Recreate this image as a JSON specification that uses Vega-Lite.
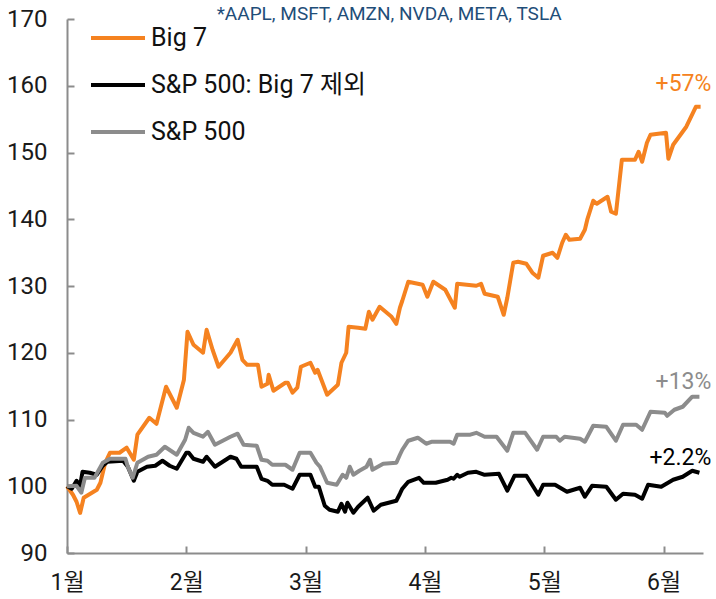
{
  "$schema": "https://vega.github.io/schema/vega-lite/v6.json",
  "width": 636,
  "height": 534,
  "autosize": {"type": "none"},
  "padding": {"left": 67, "top": 19, "right": 13, "bottom": 46},
  "background": "white",
  "config": {
    "view": {"stroke": null},
    "font": "Roboto, Noto Sans CJK KR",
    "axis": {"labelFont": "Roboto, Noto Sans CJK KR", "labelColor": "#1a1a1a", "domainColor": "#8c8c8c", "tickColor": "#8c8c8c", "domainWidth": 2, "tickWidth": 2, "grid": false, "title": null},
    "legend": {"labelFont": "Roboto, Noto Sans CJK KR"}
  },
  "datasets": {
    "lines": [
      {"series": "Big 7", "m": 0, "v": 100},
      {"series": "Big 7", "m": 0.05, "v": 98.73},
      {"series": "Big 7", "m": 0.08, "v": 97.68},
      {"series": "Big 7", "m": 0.11, "v": 96.0},
      {"series": "Big 7", "m": 0.14, "v": 98.28},
      {"series": "Big 7", "m": 0.25, "v": 99.48},
      {"series": "Big 7", "m": 0.28, "v": 100.52},
      {"series": "Big 7", "m": 0.32, "v": 103.52},
      {"series": "Big 7", "m": 0.36, "v": 105.02},
      {"series": "Big 7", "m": 0.44, "v": 105.02},
      {"series": "Big 7", "m": 0.50, "v": 105.77},
      {"series": "Big 7", "m": 0.56, "v": 103.97},
      {"series": "Big 7", "m": 0.59, "v": 107.72},
      {"series": "Big 7", "m": 0.69, "v": 110.26},
      {"series": "Big 7", "m": 0.75, "v": 109.36},
      {"series": "Big 7", "m": 0.83, "v": 114.91},
      {"series": "Big 7", "m": 0.92, "v": 111.76},
      {"series": "Big 7", "m": 0.98, "v": 115.96},
      {"series": "Big 7", "m": 1.01, "v": 123.15},
      {"series": "Big 7", "m": 1.06, "v": 121.2},
      {"series": "Big 7", "m": 1.14, "v": 120.0},
      {"series": "Big 7", "m": 1.17, "v": 123.45},
      {"series": "Big 7", "m": 1.22, "v": 120.45},
      {"series": "Big 7", "m": 1.27, "v": 117.9},
      {"series": "Big 7", "m": 1.37, "v": 120.0},
      {"series": "Big 7", "m": 1.43, "v": 121.95},
      {"series": "Big 7", "m": 1.47, "v": 118.95},
      {"series": "Big 7", "m": 1.51, "v": 118.2},
      {"series": "Big 7", "m": 1.60, "v": 118.2},
      {"series": "Big 7", "m": 1.63, "v": 114.91},
      {"series": "Big 7", "m": 1.68, "v": 115.36},
      {"series": "Big 7", "m": 1.69, "v": 116.7},
      {"series": "Big 7", "m": 1.73, "v": 114.31},
      {"series": "Big 7", "m": 1.83, "v": 115.51},
      {"series": "Big 7", "m": 1.85, "v": 115.51},
      {"series": "Big 7", "m": 1.89, "v": 114.01},
      {"series": "Big 7", "m": 1.93, "v": 114.76},
      {"series": "Big 7", "m": 1.96, "v": 117.9},
      {"series": "Big 7", "m": 2.04, "v": 118.5},
      {"series": "Big 7", "m": 2.08, "v": 117.0},
      {"series": "Big 7", "m": 2.10, "v": 117.45},
      {"series": "Big 7", "m": 2.18, "v": 113.71},
      {"series": "Big 7", "m": 2.27, "v": 115.21},
      {"series": "Big 7", "m": 2.30, "v": 118.5},
      {"series": "Big 7", "m": 2.34, "v": 120.0},
      {"series": "Big 7", "m": 2.36, "v": 123.9},
      {"series": "Big 7", "m": 2.44, "v": 123.75},
      {"series": "Big 7", "m": 2.50, "v": 123.6},
      {"series": "Big 7", "m": 2.53, "v": 126.14},
      {"series": "Big 7", "m": 2.56, "v": 124.94},
      {"series": "Big 7", "m": 2.62, "v": 126.89},
      {"series": "Big 7", "m": 2.72, "v": 125.39},
      {"series": "Big 7", "m": 2.76, "v": 124.34},
      {"series": "Big 7", "m": 2.79, "v": 126.74},
      {"series": "Big 7", "m": 2.81, "v": 127.79},
      {"series": "Big 7", "m": 2.86, "v": 130.64},
      {"series": "Big 7", "m": 2.98, "v": 130.19},
      {"series": "Big 7", "m": 3.02, "v": 128.39},
      {"series": "Big 7", "m": 3.07, "v": 130.64},
      {"series": "Big 7", "m": 3.17, "v": 129.44},
      {"series": "Big 7", "m": 3.25, "v": 126.74},
      {"series": "Big 7", "m": 3.27, "v": 130.34},
      {"series": "Big 7", "m": 3.43, "v": 130.04},
      {"series": "Big 7", "m": 3.47, "v": 130.34},
      {"series": "Big 7", "m": 3.50, "v": 128.84},
      {"series": "Big 7", "m": 3.61, "v": 128.39},
      {"series": "Big 7", "m": 3.66, "v": 125.69},
      {"series": "Big 7", "m": 3.69, "v": 128.24},
      {"series": "Big 7", "m": 3.74, "v": 133.48},
      {"series": "Big 7", "m": 3.78, "v": 133.63},
      {"series": "Big 7", "m": 3.85, "v": 133.33},
      {"series": "Big 7", "m": 3.90, "v": 131.99},
      {"series": "Big 7", "m": 3.95, "v": 131.24},
      {"series": "Big 7", "m": 3.99, "v": 134.53},
      {"series": "Big 7", "m": 4.07, "v": 134.98},
      {"series": "Big 7", "m": 4.11, "v": 134.23},
      {"series": "Big 7", "m": 4.15, "v": 136.48},
      {"series": "Big 7", "m": 4.18, "v": 137.68},
      {"series": "Big 7", "m": 4.21, "v": 136.93},
      {"series": "Big 7", "m": 4.30, "v": 137.08},
      {"series": "Big 7", "m": 4.34, "v": 138.43},
      {"series": "Big 7", "m": 4.36, "v": 139.93},
      {"series": "Big 7", "m": 4.41, "v": 142.77},
      {"series": "Big 7", "m": 4.44, "v": 142.32},
      {"series": "Big 7", "m": 4.53, "v": 143.37},
      {"series": "Big 7", "m": 4.56, "v": 141.12},
      {"series": "Big 7", "m": 4.60, "v": 140.82},
      {"series": "Big 7", "m": 4.65, "v": 148.91},
      {"series": "Big 7", "m": 4.76, "v": 148.91},
      {"series": "Big 7", "m": 4.79, "v": 150.11},
      {"series": "Big 7", "m": 4.82, "v": 148.61},
      {"series": "Big 7", "m": 4.86, "v": 151.46},
      {"series": "Big 7", "m": 4.89, "v": 152.66},
      {"series": "Big 7", "m": 5.02, "v": 152.96},
      {"series": "Big 7", "m": 5.04, "v": 149.06},
      {"series": "Big 7", "m": 5.08, "v": 151.16},
      {"series": "Big 7", "m": 5.19, "v": 153.86},
      {"series": "Big 7", "m": 5.27, "v": 156.85},
      {"series": "Big 7", "m": 5.31, "v": 156.85},

      {"series": "S&P 500: Big 7 제외", "m": 0, "v": 100},
      {"series": "S&P 500: Big 7 제외", "m": 0.04, "v": 99.63},
      {"series": "S&P 500: Big 7 제외", "m": 0.08, "v": 100.82},
      {"series": "S&P 500: Big 7 제외", "m": 0.11, "v": 100.1},
      {"series": "S&P 500: Big 7 제외", "m": 0.13, "v": 102.17},
      {"series": "S&P 500: Big 7 제외", "m": 0.19, "v": 102.02},
      {"series": "S&P 500: Big 7 제외", "m": 0.25, "v": 101.72},
      {"series": "S&P 500: Big 7 제외", "m": 0.30, "v": 103.07},
      {"series": "S&P 500: Big 7 제외", "m": 0.34, "v": 103.67},
      {"series": "S&P 500: Big 7 제외", "m": 0.47, "v": 103.82},
      {"series": "S&P 500: Big 7 제외", "m": 0.51, "v": 102.92},
      {"series": "S&P 500: Big 7 제외", "m": 0.56, "v": 100.82},
      {"series": "S&P 500: Big 7 제외", "m": 0.59, "v": 102.17},
      {"series": "S&P 500: Big 7 제외", "m": 0.67, "v": 102.92},
      {"series": "S&P 500: Big 7 제외", "m": 0.74, "v": 103.07},
      {"series": "S&P 500: Big 7 제외", "m": 0.80, "v": 103.82},
      {"series": "S&P 500: Big 7 제외", "m": 0.86, "v": 103.07},
      {"series": "S&P 500: Big 7 제외", "m": 0.92, "v": 102.62},
      {"series": "S&P 500: Big 7 제외", "m": 1.00, "v": 105.02},
      {"series": "S&P 500: Big 7 제외", "m": 1.02, "v": 105.02},
      {"series": "S&P 500: Big 7 제외", "m": 1.06, "v": 104.12},
      {"series": "S&P 500: Big 7 제외", "m": 1.14, "v": 103.67},
      {"series": "S&P 500: Big 7 제외", "m": 1.17, "v": 104.42},
      {"series": "S&P 500: Big 7 제외", "m": 1.24, "v": 102.92},
      {"series": "S&P 500: Big 7 제외", "m": 1.37, "v": 104.42},
      {"series": "S&P 500: Big 7 제외", "m": 1.42, "v": 104.12},
      {"series": "S&P 500: Big 7 제외", "m": 1.46, "v": 102.92},
      {"series": "S&P 500: Big 7 제외", "m": 1.59, "v": 102.92},
      {"series": "S&P 500: Big 7 제외", "m": 1.63, "v": 101.12},
      {"series": "S&P 500: Big 7 제외", "m": 1.68, "v": 100.82},
      {"series": "S&P 500: Big 7 제외", "m": 1.72, "v": 100.22},
      {"series": "S&P 500: Big 7 제외", "m": 1.82, "v": 100.22},
      {"series": "S&P 500: Big 7 제외", "m": 1.89, "v": 99.63},
      {"series": "S&P 500: Big 7 제외", "m": 1.95, "v": 101.72},
      {"series": "S&P 500: Big 7 제외", "m": 2.04, "v": 101.72},
      {"series": "S&P 500: Big 7 제외", "m": 2.08, "v": 99.93},
      {"series": "S&P 500: Big 7 제외", "m": 2.11, "v": 99.93},
      {"series": "S&P 500: Big 7 제외", "m": 2.16, "v": 97.08},
      {"series": "S&P 500: Big 7 제외", "m": 2.20, "v": 96.48},
      {"series": "S&P 500: Big 7 제외", "m": 2.27, "v": 96.18},
      {"series": "S&P 500: Big 7 제외", "m": 2.30, "v": 97.38},
      {"series": "S&P 500: Big 7 제외", "m": 2.33, "v": 96.18},
      {"series": "S&P 500: Big 7 제외", "m": 2.35, "v": 97.53},
      {"series": "S&P 500: Big 7 제외", "m": 2.40, "v": 96.03},
      {"series": "S&P 500: Big 7 제외", "m": 2.44, "v": 96.93},
      {"series": "S&P 500: Big 7 제외", "m": 2.52, "v": 98.28},
      {"series": "S&P 500: Big 7 제외", "m": 2.57, "v": 96.33},
      {"series": "S&P 500: Big 7 제외", "m": 2.63, "v": 97.23},
      {"series": "S&P 500: Big 7 제외", "m": 2.76, "v": 97.83},
      {"series": "S&P 500: Big 7 제외", "m": 2.79, "v": 98.88},
      {"series": "S&P 500: Big 7 제외", "m": 2.81, "v": 99.63},
      {"series": "S&P 500: Big 7 제외", "m": 2.86, "v": 100.67},
      {"series": "S&P 500: Big 7 제외", "m": 2.95, "v": 101.27},
      {"series": "S&P 500: Big 7 제외", "m": 2.99, "v": 100.52},
      {"series": "S&P 500: Big 7 제외", "m": 3.09, "v": 100.52},
      {"series": "S&P 500: Big 7 제외", "m": 3.19, "v": 100.97},
      {"series": "S&P 500: Big 7 제외", "m": 3.22, "v": 101.27},
      {"series": "S&P 500: Big 7 제외", "m": 3.24, "v": 101.12},
      {"series": "S&P 500: Big 7 제외", "m": 3.27, "v": 101.72},
      {"series": "S&P 500: Big 7 제외", "m": 3.29, "v": 101.42},
      {"series": "S&P 500: Big 7 제외", "m": 3.36, "v": 102.02},
      {"series": "S&P 500: Big 7 제외", "m": 3.43, "v": 102.17},
      {"series": "S&P 500: Big 7 제외", "m": 3.50, "v": 101.72},
      {"series": "S&P 500: Big 7 제외", "m": 3.62, "v": 101.87},
      {"series": "S&P 500: Big 7 제외", "m": 3.69, "v": 99.33},
      {"series": "S&P 500: Big 7 제외", "m": 3.75, "v": 101.57},
      {"series": "S&P 500: Big 7 제외", "m": 3.85, "v": 101.57},
      {"series": "S&P 500: Big 7 제외", "m": 3.95, "v": 98.73},
      {"series": "S&P 500: Big 7 제외", "m": 3.99, "v": 100.22},
      {"series": "S&P 500: Big 7 제외", "m": 4.09, "v": 100.22},
      {"series": "S&P 500: Big 7 제외", "m": 4.19, "v": 99.18},
      {"series": "S&P 500: Big 7 제외", "m": 4.30, "v": 99.78},
      {"series": "S&P 500: Big 7 제외", "m": 4.34, "v": 98.43},
      {"series": "S&P 500: Big 7 제외", "m": 4.40, "v": 100.07},
      {"series": "S&P 500: Big 7 제외", "m": 4.52, "v": 99.93},
      {"series": "S&P 500: Big 7 제외", "m": 4.60, "v": 97.98},
      {"series": "S&P 500: Big 7 제외", "m": 4.66, "v": 98.88},
      {"series": "S&P 500: Big 7 제외", "m": 4.76, "v": 98.73},
      {"series": "S&P 500: Big 7 제외", "m": 4.82, "v": 98.13},
      {"series": "S&P 500: Big 7 제외", "m": 4.87, "v": 100.22},
      {"series": "S&P 500: Big 7 제외", "m": 4.98, "v": 99.93},
      {"series": "S&P 500: Big 7 제외", "m": 5.08, "v": 100.97},
      {"series": "S&P 500: Big 7 제외", "m": 5.16, "v": 101.42},
      {"series": "S&P 500: Big 7 제외", "m": 5.24, "v": 102.32},
      {"series": "S&P 500: Big 7 제외", "m": 5.30, "v": 102.02},

      {"series": "S&P 500", "m": 0, "v": 100},
      {"series": "S&P 500", "m": 0.08, "v": 100.07},
      {"series": "S&P 500", "m": 0.12, "v": 99.03},
      {"series": "S&P 500", "m": 0.15, "v": 101.27},
      {"series": "S&P 500", "m": 0.23, "v": 101.27},
      {"series": "S&P 500", "m": 0.30, "v": 103.52},
      {"series": "S&P 500", "m": 0.36, "v": 104.12},
      {"series": "S&P 500", "m": 0.49, "v": 104.12},
      {"series": "S&P 500", "m": 0.51, "v": 102.92},
      {"series": "S&P 500", "m": 0.55, "v": 101.27},
      {"series": "S&P 500", "m": 0.59, "v": 103.52},
      {"series": "S&P 500", "m": 0.68, "v": 104.42},
      {"series": "S&P 500", "m": 0.75, "v": 104.72},
      {"series": "S&P 500", "m": 0.82, "v": 105.92},
      {"series": "S&P 500", "m": 0.92, "v": 104.72},
      {"series": "S&P 500", "m": 0.99, "v": 106.97},
      {"series": "S&P 500", "m": 1.02, "v": 108.76},
      {"series": "S&P 500", "m": 1.06, "v": 108.01},
      {"series": "S&P 500", "m": 1.14, "v": 107.42},
      {"series": "S&P 500", "m": 1.18, "v": 108.16},
      {"series": "S&P 500", "m": 1.24, "v": 106.22},
      {"series": "S&P 500", "m": 1.37, "v": 107.42},
      {"series": "S&P 500", "m": 1.43, "v": 107.87},
      {"series": "S&P 500", "m": 1.48, "v": 106.22},
      {"series": "S&P 500", "m": 1.59, "v": 106.07},
      {"series": "S&P 500", "m": 1.63, "v": 103.97},
      {"series": "S&P 500", "m": 1.68, "v": 103.82},
      {"series": "S&P 500", "m": 1.72, "v": 103.22},
      {"series": "S&P 500", "m": 1.83, "v": 103.22},
      {"series": "S&P 500", "m": 1.89, "v": 102.47},
      {"series": "S&P 500", "m": 1.95, "v": 105.02},
      {"series": "S&P 500", "m": 2.04, "v": 105.02},
      {"series": "S&P 500", "m": 2.09, "v": 103.52},
      {"series": "S&P 500", "m": 2.12, "v": 102.92},
      {"series": "S&P 500", "m": 2.18, "v": 100.52},
      {"series": "S&P 500", "m": 2.26, "v": 100.22},
      {"series": "S&P 500", "m": 2.31, "v": 101.72},
      {"series": "S&P 500", "m": 2.34, "v": 101.27},
      {"series": "S&P 500", "m": 2.37, "v": 102.92},
      {"series": "S&P 500", "m": 2.40, "v": 101.72},
      {"series": "S&P 500", "m": 2.45, "v": 102.32},
      {"series": "S&P 500", "m": 2.51, "v": 102.92},
      {"series": "S&P 500", "m": 2.54, "v": 103.97},
      {"series": "S&P 500", "m": 2.56, "v": 102.47},
      {"series": "S&P 500", "m": 2.65, "v": 103.37},
      {"series": "S&P 500", "m": 2.76, "v": 103.52},
      {"series": "S&P 500", "m": 2.79, "v": 104.72},
      {"series": "S&P 500", "m": 2.81, "v": 105.47},
      {"series": "S&P 500", "m": 2.86, "v": 106.82},
      {"series": "S&P 500", "m": 2.94, "v": 107.27},
      {"series": "S&P 500", "m": 3.01, "v": 106.37},
      {"series": "S&P 500", "m": 3.06, "v": 106.67},
      {"series": "S&P 500", "m": 3.21, "v": 106.67},
      {"series": "S&P 500", "m": 3.24, "v": 106.37},
      {"series": "S&P 500", "m": 3.27, "v": 107.72},
      {"series": "S&P 500", "m": 3.38, "v": 107.72},
      {"series": "S&P 500", "m": 3.43, "v": 108.01},
      {"series": "S&P 500", "m": 3.50, "v": 107.42},
      {"series": "S&P 500", "m": 3.60, "v": 107.42},
      {"series": "S&P 500", "m": 3.69, "v": 105.32},
      {"series": "S&P 500", "m": 3.74, "v": 108.01},
      {"series": "S&P 500", "m": 3.84, "v": 108.01},
      {"series": "S&P 500", "m": 3.94, "v": 105.47},
      {"series": "S&P 500", "m": 3.99, "v": 107.42},
      {"series": "S&P 500", "m": 4.10, "v": 107.42},
      {"series": "S&P 500", "m": 4.13, "v": 106.82},
      {"series": "S&P 500", "m": 4.17, "v": 107.42},
      {"series": "S&P 500", "m": 4.30, "v": 107.12},
      {"series": "S&P 500", "m": 4.34, "v": 106.67},
      {"series": "S&P 500", "m": 4.41, "v": 109.06},
      {"series": "S&P 500", "m": 4.52, "v": 108.91},
      {"series": "S&P 500", "m": 4.60, "v": 106.82},
      {"series": "S&P 500", "m": 4.66, "v": 109.21},
      {"series": "S&P 500", "m": 4.77, "v": 109.21},
      {"series": "S&P 500", "m": 4.82, "v": 108.46},
      {"series": "S&P 500", "m": 4.89, "v": 111.16},
      {"series": "S&P 500", "m": 5.01, "v": 111.01},
      {"series": "S&P 500", "m": 5.03, "v": 110.56},
      {"series": "S&P 500", "m": 5.09, "v": 111.46},
      {"series": "S&P 500", "m": 5.16, "v": 111.91},
      {"series": "S&P 500", "m": 5.24, "v": 113.41},
      {"series": "S&P 500", "m": 5.30, "v": 113.41}
    ],
    "labels": [
      {"series": "Big 7", "label": "+57%", "m": 5.4, "v": 160.3},
      {"series": "S&P 500", "label": "+13%", "m": 5.4, "v": 115.6},
      {"series": "S&P 500: Big 7 제외", "label": "+2.2%", "m": 5.4, "v": 104.2}
    ],
    "note": [
      {"label": "*AAPL, MSFT, AMZN, NVDA, META, TSLA", "m": 2.7, "v": 170.8}
    ]
  },
  "layer": [
    {
      "data": {"name": "lines"},
      "mark": {"type": "line", "strokeWidth": 4, "strokeJoin": "round", "strokeCap": "butt"},
      "encoding": {
        "x": {"field": "m", "type": "quantitative", "scale": {"domain": [0, 5.33], "nice": false, "zero": false},
          "axis": {"values": [0, 1, 2, 3, 4, 5], "labelExpr": "(datum.value + 1) + '월'", "labelFontSize": 23, "tickSize": -7, "labelPadding": 25, "labelBaseline": "top", "labelFlush": false, "labelOverlap": false}},
        "y": {"field": "v", "type": "quantitative", "scale": {"domain": [90, 170], "nice": false, "zero": false},
          "axis": {"values": [90, 100, 110, 120, 130, 140, 150, 160, 170], "labelFontSize": 24, "tickSize": -7, "labelPadding": 27}},
        "color": {"field": "series", "type": "nominal",
          "scale": {"domain": ["Big 7", "S&P 500: Big 7 제외", "S&P 500"], "range": ["#f58220", "#000000", "#8c8c8c"]},
          "legend": {"title": null, "orient": "none", "legendX": 22, "legendY": -10, "symbolType": "stroke", "symbolSize": 2916, "symbolStrokeWidth": 4, "labelFontSize": 25, "labelColor": "#111111", "rowPadding": 5, "labelOffset": 4, "labelLimit": 0}
        },
        "order": {"field": "m", "type": "quantitative"}
      }
    },
    {
      "data": {"name": "labels"},
      "mark": {"type": "text", "align": "right", "baseline": "middle", "fontSize": 23, "clip": false},
      "encoding": {
        "x": {"field": "m", "type": "quantitative"},
        "y": {"field": "v", "type": "quantitative"},
        "text": {"field": "label"},
        "color": {"field": "series", "type": "nominal", "legend": null}
      }
    },
    {
      "data": {"name": "note"},
      "mark": {"type": "text", "align": "center", "baseline": "middle", "fontSize": 19, "color": "#1f4e79", "clip": false},
      "encoding": {
        "x": {"field": "m", "type": "quantitative"},
        "y": {"field": "v", "type": "quantitative"},
        "text": {"field": "label"}
      }
    }
  ]
}
